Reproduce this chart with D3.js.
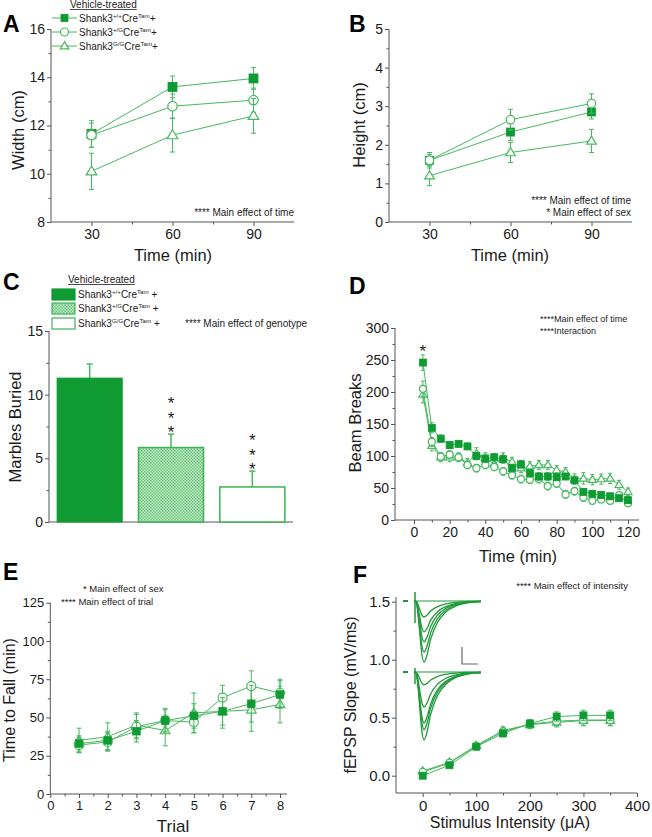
<!DOCTYPE html>
<html><head><meta charset="utf-8">
<script src="https://cdn.jsdelivr.net/npm/d3@7"></script>
<style>body{margin:0;background:#fff} svg{font-family:Arial,"Liberation Sans",sans-serif}</style>
</head><body><svg id="c" width="652" height="837"></svg>
<script>
// ---------------- DATA ----------------
const genotypes = ["+/+", "+/G", "G/G"];
const markerKinds = ["square", "circle", "triangle"];

// Panel A: width (cm)
const timesAB = [30, 60, 90];
const widthWT = [11.65, 13.6, 13.95], widthWTErr = [0.55, 0.45, 0.45];
const widthHet = [11.6, 12.8, 13.05], widthHetErr = [0.5, 0.5, 0.5];
const widthHom = [10.1, 11.6, 12.4], widthHomErr = [0.75, 0.7, 0.72];
const ticksA = [8, 10, 12, 14, 16];

// Panel B: height (cm)
const heightWT = [1.6, 2.33, 2.85], heightWTErr = [0.15, 0.22, 0.18];
const heightHet = [1.6, 2.65, 3.07], heightHetErr = [0.2, 0.27, 0.25];
const heightHom = [1.2, 1.8, 2.1], heightHomErr = [0.26, 0.26, 0.3];
const ticksB = [0, 1, 2, 3, 4, 5];

// Panel C: marbles buried
const marbles = [11.3, 5.85, 2.75], marblesErr = [1.1, 1.05, 1.25];
const marbleSig = ["", "***", "***"];
const ticksC = [0, 5, 10, 15];

// Panel D: beam breaks over time
const beamTimes = [5,10,15,20,25,30,35,40,45,50,55,60,65,70,75,80,85,90,95,100,105,110,115,120];
const beamWT  = [246,144,127,117,119,115,100,96,98,95,81,87,73,68,68,67,68,62,44,41,39,37,34,31];
const beamHet = [205,122,99,102,98,86,81,86,83,76,70,64,63,64,53,57,40,45,35,30,32,30,39,26];
const beamHom = [196,116,98,98,98,89,104,97,87,97,91,81,84,86,86,78,75,64,65,63,64,65,55,44];
const beamWTErr  = [12,8,6,5,5,5,6,6,6,6,6,6,6,6,6,5,5,5,5,5,5,5,5,5];
const beamHetErr = [12,7,6,6,6,6,6,6,6,6,6,6,6,6,6,6,6,6,6,5,5,5,5,5];
const beamHomErr = [13,8,7,7,7,7,9,8,7,8,7,7,7,7,7,7,7,8,9,8,8,8,7,6];
const ticksDy = [0, 50, 100, 150, 200, 250, 300];
const ticksDx = [0, 20, 40, 60, 80, 100, 120];

// Panel E: rotarod
const trials = [1, 2, 3, 4, 5, 6, 7, 8];
const fallWT  = [33, 35, 41, 48, 51, 54, 59, 65], fallWTErr = [5, 6, 7, 7, 8, 9, 12, 9];
const fallHet = [32, 34, 44, 48, 47, 63, 70.5, 66], fallHetErr = [5, 6, 8, 8, 7, 8, 10, 9];
const fallHom = [35, 37.5, 45, 41.5, 53, 54, 55, 58.5], fallHomErr = [8, 9, 8, 10, 13, 11, 14, 12];
const ticksEy = [0, 25, 50, 75, 100, 125];
const ticksEx = [0, 1, 2, 3, 4, 5, 6, 7, 8];

// Panel F: input-output
const intensities = [0, 50, 100, 150, 200, 250, 300, 350];
const slopeWT  = [0.0, 0.09, 0.25, 0.365, 0.45, 0.51, 0.52, 0.52];
const slopeHet = [0.03, 0.11, 0.255, 0.38, 0.445, 0.47, 0.48, 0.48];
const slopeHom = [0.04, 0.115, 0.26, 0.39, 0.44, 0.46, 0.475, 0.475];
const slopeErr = [0.015, 0.02, 0.02, 0.03, 0.035, 0.04, 0.045, 0.045];
const ticksFy = [0.0, 0.5, 1.0, 1.5];
const ticksFx = [0, 100, 200, 300, 400];
// inset traces: peak amplitudes (mV) for each stimulus, two example recordings
const traceAmpTop = [0.47, 0.91, 1.2, 1.5, 1.8];
const traceAmpBottom = [0.38, 1.03, 1.5, 1.7, 2.0];
// waveform template (time ms, fraction of peak)
const traceT = [0, 0.6, 1.0, 1.6, 2.3, 3.0, 3.8, 5, 7, 9.5, 12.5, 16, 20];
const traceF = [0, 0.02, 0.12, 0.45, 0.85, 1, 0.9, 0.62, 0.35, 0.18, 0.08, 0.03, 0.01];

// ---------------- STYLE ----------------
const GREEN = "#0f9b32", LINE = "#45b95e", AX = "#555", TXT = "#1b1b1b";
const svg = d3.select("#c");

function axes(g, o) {
  const fs = o.fs || 14;
  if (o.xTicks) {
    const a = g.append("g").attr("transform", `translate(0,${o.xAt})`)
      .call(d3.axisBottom(o.x).tickValues(o.xTicks).tickSize(4).tickPadding(3).tickFormat(o.xFmt || (d => d)));
    a.select(".domain").remove();
    a.attr("font-family", null).attr("font-size", fs);
  }
  if (o.xMinor) {
    const a = g.append("g").attr("transform", `translate(0,${o.xAt})`)
      .call(d3.axisBottom(o.x).tickValues(o.xMinor).tickSize(2.5).tickFormat(""));
    a.select(".domain").remove();
  }
  if (o.yTicks) {
    const a = g.append("g").attr("transform", `translate(${o.yAt},0)`)
      .call(d3.axisLeft(o.y).tickValues(o.yTicks).tickSize(4).tickPadding(2).tickFormat(o.yFmt || (d => d)));
    a.select(".domain").remove();
    a.attr("font-family", null).attr("font-size", fs);
  }
  if (o.yMinor) {
    const a = g.append("g").attr("transform", `translate(${o.yAt},0)`)
      .call(d3.axisLeft(o.y).tickValues(o.yMinor).tickSize(2.5).tickFormat(""));
    a.select(".domain").remove();
  }
  g.selectAll(".tick line").attr("stroke", AX);
  g.selectAll(".tick text").attr("fill", TXT);
  g.append("line").attr("x1", o.xExt[0]).attr("x2", o.xExt[1]).attr("y1", o.xAt).attr("y2", o.xAt).attr("stroke", AX);
  if (o.yExt) g.append("line").attr("x1", o.yAt).attr("x2", o.yAt).attr("y1", o.yExt[0]).attr("y2", o.yExt[1]).attr("stroke", AX);
}

function marker(g, kind, x, y, s) {
  if (kind === "square") {
    g.append("rect").attr("x", x - s / 2).attr("y", y - s / 2).attr("width", s).attr("height", s)
      .attr("fill", GREEN).attr("stroke", GREEN).attr("stroke-width", 0.8);
  } else if (kind === "circle") {
    g.append("circle").attr("cx", x).attr("cy", y).attr("r", s / 2)
      .attr("fill", "#fff").attr("stroke", LINE).attr("stroke-width", 1.2);
  } else {
    const h = s * 0.9;
    g.append("path").attr("d", `M${x},${y - h * 0.6}L${x + s / 2 + 0.3},${y + h * 0.4}L${x - s / 2 - 0.3},${y + h * 0.4}Z`)
      .attr("fill", "#fff").attr("stroke", LINE).attr("stroke-width", 1.2);
  }
}

function series(g, x, y, xs, ys, errs, kind, s, cap) {
  const line = d3.line().x((d, i) => x(xs[i])).y(d => y(d));
  g.append("path").attr("d", line(ys)).attr("fill", "none").attr("stroke", LINE).attr("stroke-width", 1);
  ys.forEach((v, i) => {
    const px = x(xs[i]);
    const y1 = y(v - errs[i]), y2 = y(v + errs[i]);
    g.append("line").attr("x1", px).attr("x2", px).attr("y1", y1).attr("y2", y2).attr("stroke", LINE).attr("stroke-width", 1);
    [y1, y2].forEach(yy => g.append("line").attr("x1", px - cap).attr("x2", px + cap).attr("y1", yy).attr("y2", yy).attr("stroke", LINE).attr("stroke-width", 1));
  });
  ys.forEach((v, i) => marker(g, kind, x(xs[i]), y(v), s));
}

function genoLabel(g, x, y, geno, fs, sp) {
  const t = g.append("text").attr("x", x).attr("y", y).attr("font-size", fs).attr("fill", TXT);
  t.append("tspan").text("Shank3");
  t.append("tspan").attr("dy", -4).attr("font-size", fs * 0.62).text(geno);
  t.append("tspan").attr("dy", 4).text("Cre");
  t.append("tspan").attr("dy", -4).attr("font-size", fs * 0.62).text("Tam");
  t.append("tspan").attr("dy", 4).text(sp + "+");
}

function underlined(g, x, y, str, fs) {
  const t = g.append("text").attr("x", x).attr("y", y).attr("font-size", fs).attr("fill", TXT).text(str);
  const w = t.node().getComputedTextLength();
  g.append("line").attr("x1", x).attr("x2", x + w).attr("y1", y + 1.5).attr("y2", y + 1.5).attr("stroke", TXT).attr("stroke-width", 0.8);
}

function text(g, x, y, str, fs, anchor, extra) {
  const t = g.append("text").attr("x", x).attr("y", y).attr("font-size", fs).attr("fill", TXT)
    .attr("text-anchor", anchor || "start").text(str);
  if (extra) extra(t);
  return t;
}
function ytitle(g, x, y, str, fs) {
  g.append("text").attr("transform", `translate(${x},${y}) rotate(-90)`).attr("text-anchor", "middle")
    .attr("font-size", fs).attr("fill", TXT).text(str);
}
function letter(g, x, y, l) {
  g.append("text").attr("x", x).attr("y", y).attr("font-size", 23).attr("font-weight", "bold").attr("fill", "#000").text(l);
}

// ---------------- PANEL A ----------------
{
  const g = svg.append("g");
  const x = d3.scaleLinear([15, 105], [51, 294]);
  const y = d3.scaleLinear([8, 16], [222, 29]);
  axes(g, { x, y, xAt: 222, yAt: 51, xTicks: timesAB, xMinor: [45, 75], yTicks: ticksA, yMinor: [9, 11, 13, 15], xExt: [51, 294], yExt: [222, 29] });
  series(g, x, y, timesAB, widthWT, widthWTErr, "square", 9, 2.5);
  series(g, x, y, timesAB, widthHet, widthHetErr, "circle", 9.5, 2.5);
  series(g, x, y, timesAB, widthHom, widthHomErr, "triangle", 10, 2.5);
  letter(g, 3, 32, "A");
  ytitle(g, 24, 130, "Width (cm)", 16.5);
  text(g, 173, 261, "Time (min)", 16.5, "middle");
  underlined(g, 70, 8, "Vehicle-treated", 10);
  [[18, "square"], [32, "circle"], [46, "triangle"]].forEach(([yy, k], i) => {
    g.append("line").attr("x1", 52).attr("x2", 77).attr("y1", yy).attr("y2", yy).attr("stroke", LINE);
    marker(g, k, 64.5, yy, k === "square" ? 7 : 8);
    genoLabel(g, 79, yy + 3.5, genotypes[i], 10, "");
  });
  text(g, 294, 216, "**** Main effect of time", 10, "end");
}

// ---------------- PANEL B ----------------
{
  const g = svg.append("g");
  const x = d3.scaleLinear([15, 105], [389, 632]);
  const y = d3.scaleLinear([0, 5], [222, 29]);
  axes(g, { x, y, xAt: 222, yAt: 389, xTicks: timesAB, xMinor: [45, 75], yTicks: ticksB, yMinor: [0.5, 1.5, 2.5, 3.5, 4.5], xExt: [389, 632], yExt: [222, 29] });
  series(g, x, y, timesAB, heightWT, heightWTErr, "square", 8, 2.5);
  series(g, x, y, timesAB, heightHet, heightHetErr, "circle", 8.5, 2.5);
  series(g, x, y, timesAB, heightHom, heightHomErr, "triangle", 9, 2.5);
  letter(g, 349, 32, "B");
  ytitle(g, 365, 125, "Height (cm)", 16.5);
  text(g, 510, 261, "Time (min)", 16.5, "middle");
  text(g, 631, 204, "**** Main effect of time", 10, "end");
  text(g, 631, 216, "* Main effect of sex", 10, "end");
}

// ---------------- PANEL C ----------------
{
  const g = svg.append("g");
  const defs = svg.append("defs");
  const pat = defs.append("pattern").attr("id", "hatch").attr("patternUnits", "userSpaceOnUse").attr("width", 3).attr("height", 3);
  pat.append("rect").attr("width", 3).attr("height", 3).attr("fill", "#c2eac8");
  pat.append("rect").attr("width", 1.5).attr("height", 1.5).attr("fill", "#6cc67c");
  pat.append("rect").attr("x", 1.5).attr("y", 1.5).attr("width", 1.5).attr("height", 1.5).attr("fill", "#6cc67c");
  const x = d3.scaleBand().domain(genotypes).range([49, 293]).paddingInner(0.2).paddingOuter(0.1);
  const y = d3.scaleLinear([0, 15], [522, 331]);
  axes(g, { x: d3.scaleLinear([0, 1], [49, 293]), y, xAt: 522, yAt: 49, yTicks: ticksC, yMinor: [2.5, 7.5, 12.5], xExt: [49, 293], yExt: [522, 331] });
  const fills = [GREEN, "url(#hatch)", "#fff"];
  marbles.forEach((v, i) => {
    const bx = x(genotypes[i]), bw = x.bandwidth(), cx = bx + bw / 2;
    const ey = y(v + marblesErr[i]);
    g.append("line").attr("x1", cx).attr("x2", cx).attr("y1", y(v)).attr("y2", ey).attr("stroke", LINE).attr("stroke-width", 1.5);
    g.append("line").attr("x1", cx - 3).attr("x2", cx + 3).attr("y1", ey).attr("y2", ey).attr("stroke", LINE).attr("stroke-width", 1.5);
    g.append("rect").attr("x", bx).attr("y", y(v)).attr("width", bw).attr("height", y(0) - y(v))
      .attr("fill", fills[i]).attr("stroke", i === 0 ? GREEN : "#3bb353").attr("stroke-width", i === 0 ? 1 : 1.5);
    if (marbleSig[i]) {
      // stacked significance stars, written vertically in one text element
      g.append("text").attr("x", cx).attr("y", ey - 40)
        .attr("font-size", 17).attr("fill", TXT)
        .attr("writing-mode", "vertical-rl")
        .style("text-orientation", "upright")
        .attr("letter-spacing", -4.5)
        .text(marbleSig[i]);
    }
  });
  letter(g, 3, 290, "C");
  ytitle(g, 21, 427, "Marbles Buried", 16.5);
  underlined(g, 68, 283, "Vehicle-treated", 10);
  const boxes = [[289, 300], [303, 314], [318, 329]];
  boxes.forEach(([y0, y1], i) => {
    g.append("rect").attr("x", 52).attr("y", y0).attr("width", 23).attr("height", y1 - y0)
      .attr("fill", fills[i]).attr("stroke", i === 0 ? GREEN : "#3bb353").attr("stroke-width", 1.2);
    genoLabel(g, 78, y1 - 2, genotypes[i], 10, " ");
  });
  text(g, 185, 327, "**** Main effect of genotype", 10, "start");
}

// ---------------- PANEL D ----------------
{
  const g = svg.append("g");
  const x = d3.scaleLinear([0, 120], [414, 628]);
  const y = d3.scaleLinear([0, 300], [520, 328]);
  axes(g, { x, y, xAt: 520, yAt: 395, xTicks: ticksDx, xMinor: [10, 30, 50, 70, 90, 110], yTicks: ticksDy, yMinor: [25, 75, 125, 175, 225, 275], xExt: [395, 639], yExt: [520, 328] });
  series(g, x, y, beamTimes, beamHom, beamHomErr, "triangle", 7.5, 2);
  series(g, x, y, beamTimes, beamHet, beamHetErr, "circle", 7, 2);
  series(g, x, y, beamTimes, beamWT, beamWTErr, "square", 7, 2);
  letter(g, 349, 294, "D");
  ytitle(g, 361, 423, "Beam Breaks", 16.5);
  text(g, 518, 562, "Time (min)", 16.5, "middle");
  text(g, 540, 322, "****Main effect of time", 9, "start");
  text(g, 540, 334, "****Interaction", 9, "start");
  text(g, x(5), 357, "*", 17, "middle");
}

// ---------------- PANEL E ----------------
{
  const g = svg.append("g");
  const x = d3.scaleLinear([0, 8], [50.3, 280]);
  const y = d3.scaleLinear([0, 125], [794, 602.7]);
  axes(g, { x, y, fs: 13, xAt: 794, yAt: 50.3, xTicks: ticksEx, xMinor: [0.5, 1.5, 2.5, 3.5, 4.5, 5.5, 6.5, 7.5], yTicks: ticksEy, yMinor: [12.5, 37.5, 62.5, 87.5, 112.5], xExt: [50.3, 287], yExt: [794, 602.7] });
  series(g, x, y, trials, fallHom, fallHomErr, "triangle", 9, 2.5);
  series(g, x, y, trials, fallHet, fallHetErr, "circle", 9, 2.5);
  series(g, x, y, trials, fallWT, fallWTErr, "square", 7.5, 2.5);
  letter(g, 3, 580, "E");
  ytitle(g, 15, 700, "Time to Fall (min)", 16);
  text(g, 173, 832, "Trial", 17, "middle");
  text(g, 83, 592, "* Main effect of sex", 9.5, "start");
  text(g, 61, 605, "**** Main effect of trial", 9.5, "start");
}

// ---------------- PANEL F ----------------
{
  const g = svg.append("g");
  const x = d3.scaleLinear([0, 400], [422.7, 637]);
  const y = d3.scaleLinear([0, 1.5], [775.7, 601.7]);
  axes(g, { x, y, fs: 15, xAt: 793, yAt: 396, xTicks: ticksFx, xMinor: [50, 150, 250, 350], yTicks: ticksFy, yMinor: [0.25, 0.75, 1.25], yFmt: d3.format(".1f"), xExt: [396, 637], yExt: [793, 597] });
  series(g, x, y, intensities, slopeHom, slopeErr, "triangle", 8, 2.5);
  series(g, x, y, intensities, slopeHet, slopeErr, "circle", 7.5, 2.5);
  series(g, x, y, intensities, slopeWT, slopeErr, "square", 7, 2.5);
  // inset traces
  const tx = d3.scaleLinear([0, 20], [414, 481]);
  const TR = "#1f9a3b";
  [[601, traceAmpTop, true], [672, traceAmpBottom, false]].forEach(([base, amps, art]) => {
    const ty = d3.scaleLinear([0, 1], [base, base + 34]);
    g.append("line").attr("x1", 403).attr("x2", 408).attr("y1", base).attr("y2", base).attr("stroke", TR).attr("stroke-width", 2);
    g.append("line").attr("x1", 414).attr("x2", 481).attr("y1", base).attr("y2", base).attr("stroke", TR).attr("stroke-width", 1.2);
    amps.forEach(a => {
      const ln = d3.line().x((d, i) => tx(traceT[i])).y(d => ty(d * a)).curve(d3.curveMonotoneX);
      g.append("path").attr("d", ln(traceF)).attr("fill", "none").attr("stroke", TR).attr("stroke-width", 1.3);
    });
    const ah = art ? [-9, 22] : [-4, 12];
    g.append("line").attr("x1", 415).attr("x2", 415).attr("y1", base + ah[0]).attr("y2", base + ah[1]).attr("stroke", TR).attr("stroke-width", 1.5);
  });
  // scale bar
  g.append("path").attr("d", "M462,647V664H478").attr("fill", "none").attr("stroke", "#666").attr("stroke-width", 1.2);
  letter(g, 353, 583, "F");
  ytitle(g, 356, 695, "fEPSP Slope (mV/ms)", 16);
  text(g, 510, 828, "Stimulus Intensity (\u03bcA)", 16, "middle");
  text(g, 628, 589, "**** Main effect of intensity", 9.5, "end");
}
</script></body></html>
